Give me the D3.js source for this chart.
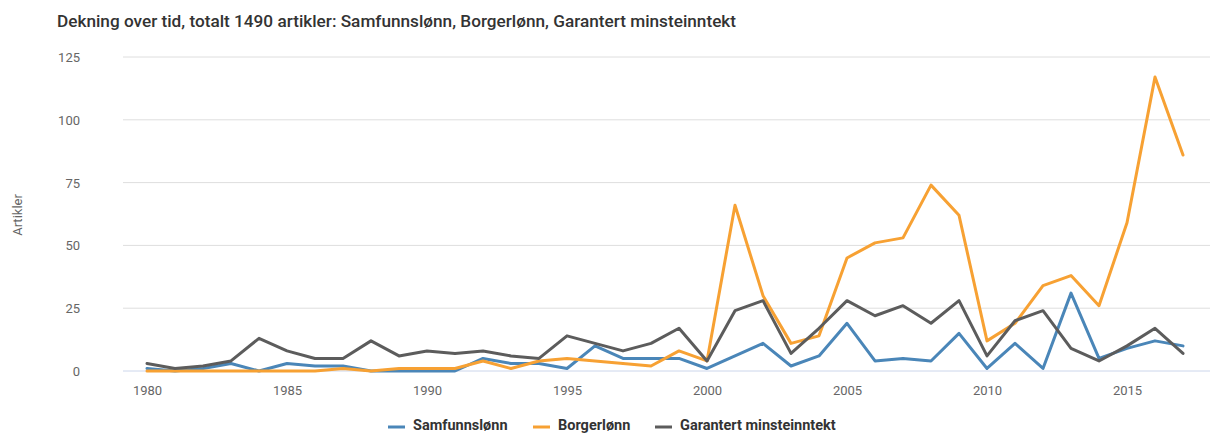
<!DOCTYPE html>
<html>
<head>
<meta charset="utf-8">
<script src="https://cdn.jsdelivr.net/npm/d3@7"></script>
<style>
  body { margin: 0; background: #fff; }
  svg { font-family: Roboto, "Open Sans", sans-serif; }
</style>
</head>
<body>
<svg id="chart"></svg>
<script>
const years = d3.range(1980, 2018);
const samfunnslonn = [1,0,1,3,0,3,2,2,0,0, 0,0,5,3,3,1,10,5,5,5, 1,6,11,2,6,19,4,5,4,15, 1,11,1,31,5,9,12,10];
const borgerlonn = [0,0,0,0,0,0,0,1,0,1, 1,1,4,1,4,5,4,3,2,8, 4,66,30,11,14,45,51,53,74,62, 12,19,34,38,26,59,117,86];
const garantert = [3,1,2,4,13,8,5,5,12,6, 8,7,8,6,5,14,11,8,11,17, 4,24,28,7,17,28,22,26,19,28, 6,20,24,9,4,10,17,7];
const seriesNames = ["Samfunnslønn", "Borgerlønn", "Garantert minsteinntekt"];
const seriesColors = ["#4a86b8", "#f7a133", "#5c5c5c"];
const yTicks = [0, 25, 50, 75, 100, 125];
const xTicks = [1980, 1985, 1990, 1995, 2000, 2005, 2010, 2015];

const W = 1210, H = 434;
const svg = d3.select("#chart").attr("width", W).attr("height", H);

const x = d3.scaleLinear().domain([1980, 2017]).range([147, 1183]);
const y = d3.scaleLinear().domain([0, 125]).range([371, 57]);

svg.append("text")
  .attr("x", 57).attr("y", 27)
  .attr("fill", "#333")
  .style("font-size", "17.2px")
  .style("font-weight", 500)
  .text("Dekning over tid, totalt 1490 artikler: Samfunnslønn, Borgerlønn, Garantert minsteinntekt");

// grid
svg.append("g")
  .selectAll("line")
  .data(yTicks.filter(d => d > 0))
  .join("line")
    .attr("x1", 123).attr("x2", 1210)
    .attr("y1", d => y(d)).attr("y2", d => y(d))
    .attr("stroke", "#dedede");

svg.append("line")
  .attr("x1", 123).attr("x2", 1210)
  .attr("y1", y(0)).attr("y2", y(0))
  .attr("stroke", "#ccd6eb");

const yAxis = svg.append("g")
  .attr("transform", "translate(80,0)")
  .call(d3.axisLeft(y).tickValues(yTicks).tickSize(0).tickPadding(0));
yAxis.select(".domain").remove();
yAxis.selectAll("text").attr("fill", "#666").style("font-size", "13px").attr("dy", "0.35em")
  .style("font-family", "Roboto, sans-serif");

const xAxis = svg.append("g")
  .attr("transform", "translate(0," + y(0) + ")")
  .call(d3.axisBottom(x).tickValues(xTicks).tickFormat(d3.format("d")).tickSize(0).tickPadding(15));
xAxis.select(".domain").remove();
xAxis.selectAll("text").attr("fill", "#666").style("font-size", "13px")
  .style("font-family", "Roboto, sans-serif");

svg.append("text")
  .attr("transform", "translate(22,215) rotate(-90)")
  .attr("text-anchor", "middle")
  .attr("fill", "#666")
  .style("font-size", "13px")
  .text("Artikler");

const line = d3.line()
  .x((d, i) => x(years[i]))
  .y(d => y(d));

svg.append("g")
  .selectAll("path")
  .data([samfunnslonn, borgerlonn, garantert])
  .join("path")
    .attr("d", line)
    .attr("fill", "none")
    .attr("stroke", (d, i) => seriesColors[i])
    .attr("stroke-width", 3)
    .attr("stroke-linejoin", "round")
    .attr("stroke-linecap", "round");

// legend
const legendX = [388, 533, 655];
const legend = svg.append("g").selectAll("g")
  .data(seriesNames)
  .join("g")
    .attr("transform", (d, i) => "translate(" + legendX[i] + ",425)");
legend.append("line")
  .attr("x1", 0).attr("x2", 17)
  .attr("y1", 2).attr("y2", 2)
  .attr("stroke", (d, i) => seriesColors[i])
  .attr("stroke-width", 3);
legend.append("text")
  .attr("x", 25).attr("dy", "0.35em")
  .attr("fill", "#333")
  .style("font-size", "14.5px")
  .style("font-weight", "bold")
  .text(d => d);
</script>
</body>
</html>
